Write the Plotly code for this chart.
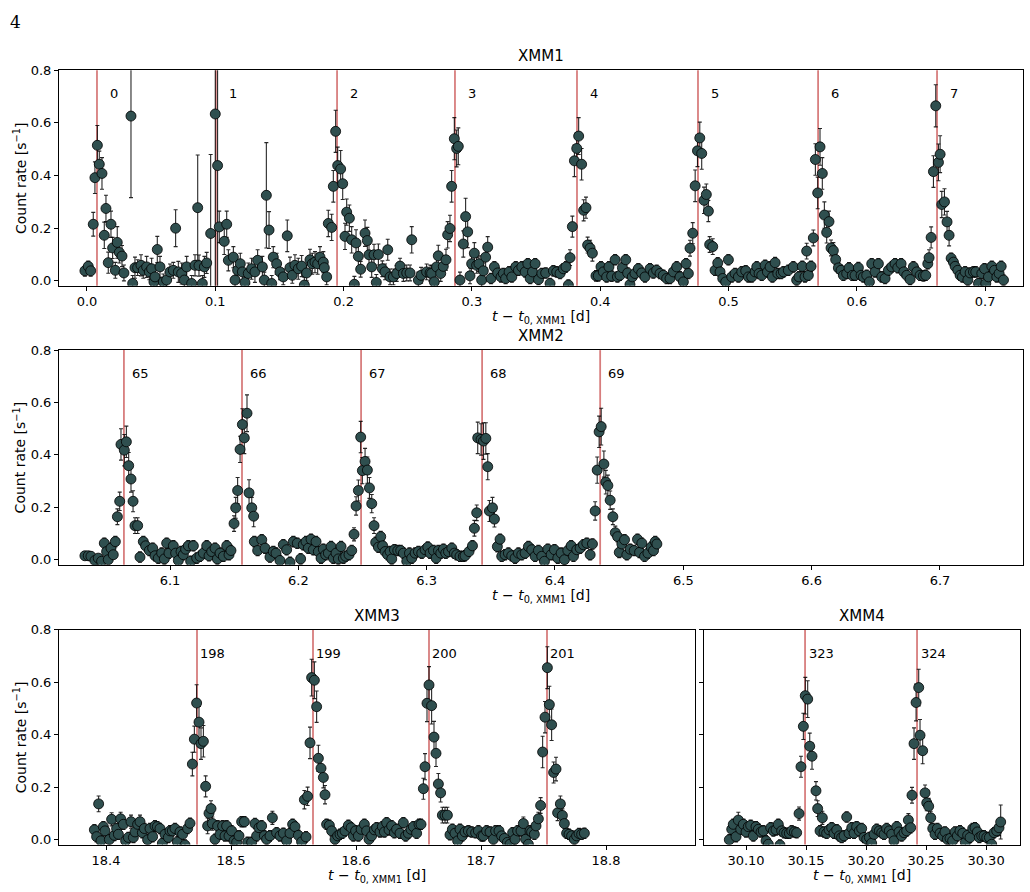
import plotly.graph_objects as go

# ---------------- data ----------------
# XMM1
t1 = [-0.0016, 0.0010, 0.0029, 0.0049, 0.0062, 0.0081, 0.0096, 0.0117, 0.0135, 0.0148, 0.0166, 0.0187, 0.0200, 0.0221,
      0.0236, 0.0252, 0.0273, 0.0288, 0.0343, 0.0356, 0.0374, 0.0395, 0.0421, 0.0439, 0.0465, 0.0486, 0.0504, 0.0522,
      0.0530, 0.0548, 0.0569, 0.0595, 0.0621, 0.0647, 0.0673, 0.0691, 0.0712, 0.0738, 0.0759, 0.0777, 0.0816, 0.0842,
      0.0863, 0.0873, 0.0899, 0.0915, 0.0933, 0.0964, 0.1000, 0.1018, 0.1031, 0.1070, 0.1089, 0.1102, 0.1141, 0.1154,
      0.1174, 0.1195, 0.1211, 0.1231, 0.1257, 0.1283, 0.1309, 0.1330, 0.1367, 0.1382, 0.1398, 0.1419, 0.1440, 0.1452,
      0.1478, 0.1504, 0.1530, 0.1561, 0.1582, 0.1600, 0.1621, 0.1647, 0.1673,
      0.1694, 0.1712, 0.1738, 0.1756, 0.1777, 0.1798, 0.1816, 0.1842, 0.1850, 0.1868, 0.1881, 0.1907, 0.1920, 0.1938,
      0.1954, 0.1977, 0.1993, 0.2011, 0.2024, 0.2045, 0.2063, 0.2084, 0.2097, 0.2115, 0.2133, 0.2167, 0.2185, 0.2198,
      0.2219, 0.2237, 0.2255, 0.2271, 0.2302, 0.2323, 0.2344, 0.2362, 0.2388, 0.2414, 0.2440, 0.2466, 0.2492, 0.2518,
      0.2531, 0.2583, 0.2604, 0.2647, 0.2674, 0.2686, 0.2707, 0.2725, 0.2738, 0.2757, 0.2777, 0.2798, 0.2811, 0.2829,
      0.2842, 0.2863, 0.2881, 0.2894, 0.2907, 0.2933, 0.2951, 0.2967, 0.2985, 0.2998, 0.3019, 0.3037, 0.3055, 0.3076,
      0.3089, 0.3107, 0.3123, 0.3149, 0.3175, 0.3201, 0.3227, 0.3245, 0.3263, 0.3290, 0.3311, 0.3342, 0.3363, 0.3389,
      0.3415, 0.3436, 0.3454, 0.3472, 0.3493, 0.3519, 0.3545,
      0.3575, 0.3609, 0.3635, 0.3661, 0.3687, 0.3713, 0.3733, 0.3752, 0.3765, 0.3783, 0.3799, 0.3817, 0.3832, 0.3855,
      0.3871, 0.3889, 0.3902, 0.3921, 0.3939, 0.3967, 0.3985, 0.4006, 0.4024, 0.4050, 0.4068, 0.4089, 0.4116, 0.4134,
      0.4154, 0.4173, 0.4199, 0.4214, 0.4232, 0.4250, 0.4271, 0.4297, 0.4323, 0.4349, 0.4388, 0.4414, 0.4440, 0.4466,
      0.4492, 0.4518, 0.4544, 0.4570, 0.4596, 0.4622, 0.4648, 0.4669, 0.4687, 0.4700, 0.4721, 0.4740, 0.4758, 0.4776,
      0.4791, 0.4809, 0.4827, 0.4843, 0.4853, 0.4877, 0.4895, 0.4916, 0.4934, 0.4955, 0.4978, 0.4999, 0.5025, 0.5051,
      0.5077, 0.5103, 0.5134, 0.5155, 0.5181, 0.5207, 0.5220, 0.5238, 0.5259, 0.5285, 0.5303, 0.5324, 0.5342, 0.5363,
      0.5384, 0.5410, 0.5428,
      0.5466, 0.5505, 0.5531, 0.5549, 0.5575, 0.5596, 0.5609, 0.5622, 0.5643, 0.5661, 0.5677, 0.5695, 0.5713, 0.5731,
      0.5747, 0.5765, 0.5783, 0.5799, 0.5817, 0.5835, 0.5856, 0.5877, 0.5895, 0.5921, 0.5939, 0.5965, 0.5986, 0.6012,
      0.6033, 0.6051, 0.6077, 0.6098, 0.6116, 0.6142, 0.6168, 0.6194, 0.6220, 0.6246, 0.6272, 0.6298, 0.6319, 0.6345,
      0.6366, 0.6389, 0.6415, 0.6441, 0.6467, 0.6493, 0.6519, 0.6537, 0.6553, 0.6563, 0.6579, 0.6597, 0.6615, 0.6636,
      0.6649, 0.6662, 0.6683, 0.6703, 0.6719, 0.6735, 0.6753, 0.6766, 0.6787, 0.6805, 0.6823, 0.6844, 0.6865, 0.6883,
      0.6909, 0.6927, 0.6948, 0.6974, 0.6995, 0.7005, 0.7026, 0.7052, 0.7073, 0.7091, 0.7109, 0.7125, 0.7143]
y1 = [0.038, 0.055, 0.038, 0.215, 0.392, 0.515, 0.443, 0.408, 0.173, 0.275, 0.069, 0.215, 0.125, 0.040,
      0.146, 0.108, 0.094, 0.030, 0.626, -0.010, 0.050, 0.050, 0.059, 0.040, 0.053, 0.034, 0.046, -0.004,
      0.015, 0.119, 0.053, -0.004, 0.003, 0.034, 0.040, 0.200, 0.034, 0.028, 0.003, 0.053, -0.010, 0.059,
      0.278, 0.058, -0.010, 0.053, 0.068, 0.180, 0.634, 0.438, 0.205, 0.150, 0.215, 0.078, 0.090, 0.003,
      0.040, 0.065, 0.034, -0.006, 0.028, 0.046, 0.034, 0.078, 0.053, 0.003, 0.325, 0.193, -0.010, 0.090,
      0.065, 0.034, 0.015, 0.171, 0.050, 0.021, 0.059, 0.046, 0.056,
      -0.016, 0.030, 0.080, 0.065, 0.071, 0.065, 0.090, 0.071, 0.050, 0.015, 0.218, 0.203, 0.359, 0.568,
      0.438, 0.425, 0.369, 0.169, 0.261, 0.238, 0.156, -0.013, 0.144, 0.093, 0.044, 0.181, 0.153, 0.099,
      0.053, 0.099, -0.006, 0.100, 0.046, 0.034, 0.118, 0.015, 0.015, 0.028, 0.056, 0.028, 0.030, 0.030,
      0.156, 0.003, 0.021, 0.034, 0.030, 0.028, -0.004, 0.053, 0.095, 0.028, 0.055, 0.080, 0.175, 0.199,
      0.359, 0.540, 0.503, 0.511, 0.003, 0.140, 0.244, 0.186, 0.019, 0.065, 0.105, 0.059, 0.065, 0.003,
      0.038, 0.090, 0.128, 0.009, 0.053, 0.030, 0.015, 0.028, 0.009, 0.034, 0.015, 0.053, 0.040, 0.053,
      0.034, 0.065, 0.009, 0.034, 0.065, 0.005, 0.028,
      0.030, -0.010, 0.038, 0.034, 0.028, 0.046, 0.053, -0.016, 0.088, 0.206, 0.456, 0.503, 0.550, 0.443,
      0.268, 0.278, 0.136, 0.124, 0.105, 0.019, 0.019, 0.053, 0.034, 0.015, 0.053, 0.018, 0.080, 0.015,
      0.021, 0.050, 0.080, 0.030, -0.014, 0.015, 0.028, 0.046, 0.030, 0.015, 0.046, 0.030, 0.040, 0.028,
      0.021, 0.009, 0.009, 0.034, 0.053, 0.015, -0.004, 0.065, 0.028, 0.124, 0.181, 0.361, 0.494, 0.543,
      0.484, 0.306, 0.328, 0.265, 0.138, 0.130, 0.040, 0.068, 0.034, 0.009, -0.004, 0.080, 0.015, 0.028,
      0.015, 0.034, 0.038, 0.015, 0.015, 0.034, 0.053, 0.028, 0.021, 0.059, 0.034, 0.053, 0.015, 0.069,
      0.028, 0.028, 0.034,
      0.040, 0.053, 0.003, 0.015, 0.055, 0.015, 0.113, 0.021, 0.055, 0.163, 0.461, 0.334, 0.509, 0.408,
      0.250, 0.184, 0.225, 0.125, 0.115, 0.081, 0.049, 0.040, 0.021, 0.028, 0.049, 0.021, 0.021, 0.050,
      0.021, 0.015, 0.021, -0.004, 0.065, 0.034, 0.065, 0.015, 0.009, 0.040, 0.053, 0.065, 0.050, 0.065,
      0.034, 0.021, 0.005, 0.053, 0.034, 0.021, 0.019, 0.021, 0.065, 0.088, 0.165, 0.415, 0.665, 0.450,
      0.481, 0.290, 0.300, 0.224, 0.173, 0.086, 0.071, 0.055, 0.040, 0.021, 0.015, 0.034, 0.003, 0.030,
      0.034, 0.034, -0.010, 0.028, 0.046, -0.010, 0.015, 0.055, 0.040, 0.015, 0.028, 0.055, 0.003]
e1 = [0.02, 0.02, 0.02, 0.045, 0.06, 0.075, 0.05, 0.06, 0.05, 0.05, 0.04, 0.05, 0.04, 0.03,
      0.06, 0.04, 0.04, 0.03, 0.31, 0.03, 0.04, 0.03, 0.04, 0.03, 0.04, 0.03, 0.04, 0.04,
      0.03, 0.05, 0.04, 0.03, 0.03, 0.03, 0.03, 0.07, 0.04, 0.04, 0.03, 0.04, 0.03, 0.04,
      0.2, 0.04, 0.03, 0.04, 0.04, 0.3, 0.8, 0.5, 0.06, 0.05, 0.05, 0.04, 0.04, 0.03,
      0.03, 0.04, 0.03, 0.03, 0.04, 0.04, 0.04, 0.04, 0.04, 0.03, 0.2, 0.07, 0.03, 0.04,
      0.04, 0.03, 0.03, 0.06, 0.04, 0.03, 0.04, 0.04, 0.04,
      0.03, 0.03, 0.04, 0.04, 0.04, 0.04, 0.04, 0.04, 0.03, 0.03, 0.05, 0.05, 0.06, 0.08,
      0.07, 0.07, 0.06, 0.05, 0.05, 0.05, 0.05, 0.03, 0.05, 0.04, 0.03, 0.05, 0.05, 0.04,
      0.04, 0.04, 0.03, 0.04, 0.03, 0.03, 0.04, 0.03, 0.03, 0.03, 0.03, 0.03, 0.03, 0.03,
      0.05, 0.03, 0.03, 0.03, 0.03, 0.03, 0.03, 0.03, 0.04, 0.03, 0.03, 0.04, 0.05, 0.05,
      0.06, 0.08, 0.07, 0.07, 0.03, 0.05, 0.07, 0.06, 0.03, 0.03, 0.04, 0.03, 0.03, 0.03,
      0.03, 0.04, 0.04, 0.02, 0.02, 0.02, 0.02, 0.02, 0.02, 0.02, 0.02, 0.02, 0.02, 0.02,
      0.02, 0.02, 0.02, 0.02, 0.02, 0.02, 0.02,
      0.02, 0.02, 0.02, 0.02, 0.02, 0.02, 0.02, 0.02, 0.03, 0.04, 0.06, 0.06, 0.07, 0.06,
      0.04, 0.04, 0.03, 0.03, 0.03, 0.02, 0.02, 0.02, 0.02, 0.02, 0.02, 0.02, 0.02, 0.02,
      0.02, 0.02, 0.02, 0.02, 0.02, 0.02, 0.02, 0.02, 0.02, 0.02, 0.02, 0.02, 0.02, 0.02,
      0.02, 0.02, 0.02, 0.02, 0.02, 0.02, 0.02, 0.02, 0.02, 0.03, 0.04, 0.06, 0.06, 0.06,
      0.06, 0.05, 0.04, 0.04, 0.03, 0.03, 0.02, 0.02, 0.02, 0.02, 0.02, 0.02, 0.02, 0.02,
      0.02, 0.02, 0.02, 0.02, 0.02, 0.02, 0.02, 0.02, 0.02, 0.02, 0.02, 0.02, 0.02, 0.02,
      0.02, 0.02, 0.02,
      0.02, 0.02, 0.02, 0.02, 0.02, 0.02, 0.03, 0.02, 0.02, 0.03, 0.06, 0.06, 0.07, 0.06,
      0.05, 0.04, 0.04, 0.03, 0.03, 0.02, 0.02, 0.02, 0.02, 0.02, 0.02, 0.02, 0.02, 0.02,
      0.02, 0.02, 0.02, 0.02, 0.02, 0.02, 0.02, 0.02, 0.02, 0.02, 0.02, 0.02, 0.02, 0.02,
      0.02, 0.02, 0.02, 0.02, 0.02, 0.02, 0.02, 0.02, 0.02, 0.03, 0.04, 0.06, 0.08, 0.07,
      0.07, 0.05, 0.05, 0.04, 0.04, 0.02, 0.02, 0.02, 0.02, 0.02, 0.02, 0.02, 0.02, 0.02,
      0.02, 0.02, 0.02, 0.02, 0.02, 0.02, 0.02, 0.02, 0.02, 0.02, 0.02, 0.02, 0.02]
flares1 = [0.0078, 0.1005, 0.1949, 0.2868, 0.3819, 0.4762, 0.5698, 0.6625]
labels1 = ["0", "1", "2", "3", "4", "5", "6", "7"]

# XMM2
t2 = [6.0337, 6.0363, 6.0384, 6.0415, 6.0441, 6.0467, 6.0488, 6.0506, 6.0519, 6.0540, 6.0558, 6.0574, 6.0590, 6.0608,
      6.0618, 6.0644, 6.0660, 6.0678, 6.0696, 6.0712, 6.0727, 6.0748, 6.0766, 6.0792, 6.0810, 6.0839, 6.0865, 6.0883,
      6.0909, 6.0935, 6.0956, 6.0974, 6.0992, 6.1026, 6.1044, 6.1065, 6.1086, 6.1104, 6.1122, 6.1143, 6.1161, 6.1182,
      6.1208, 6.1234, 6.1260, 6.1286, 6.1304, 6.1325, 6.1351, 6.1369, 6.1390, 6.1416, 6.1442, 6.1460, 6.1475, 6.1499,
      6.1512, 6.1527, 6.1546, 6.1564, 6.1579, 6.1600, 6.1616, 6.1637, 6.1652, 6.1657, 6.1683, 6.1715, 6.1741, 6.1779,
      6.1805, 6.1826, 6.1857, 6.1883, 6.1909, 6.1935, 6.1961, 6.1992, 6.2018, 6.2039, 6.2060, 6.2078, 6.2099, 6.2117,
      6.2138, 6.2156, 6.2177, 6.2195, 6.2213, 6.2234, 6.2255, 6.2273, 6.2294, 6.2312, 6.2333, 6.2351, 6.2369, 6.2395,
      6.2416, 6.2434, 6.2450, 6.2468, 6.2486, 6.2499, 6.2520, 6.2538, 6.2554, 6.2572, 6.2590, 6.2603, 6.2624, 6.2642,
      6.2657, 6.2676, 6.2696, 6.2715, 6.2728, 6.2749, 6.2775, 6.2798, 6.2819, 6.2845, 6.2866, 6.2884, 6.2910, 6.2936,
      6.2962, 6.2988, 6.3009, 6.3027, 6.3053, 6.3074, 6.3092, 6.3110, 6.3131, 6.3149, 6.3170, 6.3196, 6.3216, 6.3234,
      6.3260, 6.3286, 6.3299, 6.3330, 6.3357, 6.3372, 6.3390, 6.3398, 6.3424, 6.3443, 6.3461, 6.3476, 6.3489, 6.3513,
      6.3528, 6.3551, 6.3572, 6.3585, 6.3611, 6.3637, 6.3663, 6.3689, 6.3715, 6.3741, 6.3767, 6.3793, 6.3819, 6.3845,
      6.3871, 6.3897, 6.3918, 6.3944, 6.3970, 6.3996, 6.4022, 6.4048, 6.4074, 6.4100, 6.4126, 6.4144, 6.4170, 6.4196,
      6.4222, 6.4248, 6.4274, 6.4292, 6.4313, 6.4329, 6.4344, 6.4360, 6.4381, 6.4396, 6.4412, 6.4430, 6.4451, 6.4470,
      6.4488, 6.4501, 6.4521, 6.4542, 6.4560, 6.4586, 6.4617, 6.4643, 6.4659, 6.4677, 6.4698, 6.4724, 6.4750, 6.4768,
      6.4781, 6.4794]
y2 = [0.015, 0.015, 0.013, -0.003, 0.006, -0.006, 0.063, 0.031, 0.000, 0.044, 0.019, 0.069, 0.164, 0.223,
      0.440, 0.418, 0.450, 0.359, 0.308, 0.223, 0.130, 0.130, 0.010, 0.069, 0.053, 0.035, 0.044, 0.015,
      0.006, 0.025, 0.003, 0.063, 0.025, 0.053, 0.025, -0.003, 0.031, 0.019, 0.040, 0.053, -0.006, 0.053,
      0.006, 0.013, 0.025, 0.053, 0.015, 0.031, 0.044, 0.003, 0.025, 0.013, 0.053, 0.019, 0.035, 0.138,
      0.198, 0.264, 0.421, 0.516, 0.465, 0.559, 0.255, 0.198, 0.166, 0.069, 0.035, 0.076, 0.044, 0.010,
      0.031, 0.025, -0.003, 0.057, 0.038, -0.010, 0.069, 0.063, 0.003, 0.057, 0.069, 0.044, 0.078, 0.038,
      0.069, 0.031, 0.006, 0.040, 0.019, 0.025, 0.050, 0.006, 0.025, 0.003, 0.050, 0.006, 0.013, 0.019,
      0.035, 0.097, 0.205, 0.264, 0.468, 0.340, 0.375, 0.342, 0.274, 0.214, 0.130, 0.066, 0.048, 0.088,
      0.053, 0.031, 0.019, 0.031, 0.003, 0.038, 0.035, 0.035, 0.025, -0.006, 0.025, 0.006, 0.025, 0.031,
      0.025, 0.038, 0.048, 0.025, 0.035, 0.006, 0.035, 0.025, 0.040, 0.025, 0.031, 0.044, 0.025, 0.019,
      0.013, 0.013, 0.015, 0.031, 0.053, 0.120, 0.179, 0.465, 0.459, 0.453, 0.463, 0.355, 0.186, 0.198,
      0.155, 0.050, 0.078, 0.013, 0.019, 0.025, 0.015, 0.006, 0.025, 0.019, 0.025, 0.050, 0.038, 0.013,
      0.035, 0.013, -0.006, 0.040, 0.019, 0.038, 0.006, 0.025, 0.000, 0.035, 0.053, 0.013, 0.038, 0.044,
      0.057, 0.063, 0.019, 0.060, 0.186, 0.342, 0.488, 0.508, 0.365, 0.296, 0.283, 0.227, 0.164, 0.103,
      0.088, 0.028, 0.060, 0.076, 0.019, 0.040, 0.035, 0.078, 0.028, 0.063, 0.013, 0.025, 0.048, 0.035,
      0.069, 0.060]
e2 = [0.015, 0.015, 0.015, 0.015, 0.015, 0.015, 0.02, 0.02, 0.015, 0.02, 0.015, 0.02, 0.03, 0.035,
      0.06, 0.06, 0.06, 0.05, 0.05, 0.04, 0.03, 0.03, 0.02, 0.02, 0.02, 0.02, 0.02, 0.02,
      0.02, 0.02, 0.02, 0.02, 0.02, 0.02, 0.02, 0.02, 0.02, 0.02, 0.02, 0.02, 0.02, 0.02,
      0.02, 0.02, 0.02, 0.02, 0.02, 0.02, 0.02, 0.02, 0.02, 0.02, 0.02, 0.02, 0.02, 0.03,
      0.04, 0.05, 0.05, 0.06, 0.06, 0.07, 0.05, 0.04, 0.04, 0.02, 0.02, 0.02, 0.02, 0.02,
      0.02, 0.02, 0.02, 0.02, 0.02, 0.02, 0.02, 0.02, 0.02, 0.02, 0.02, 0.02, 0.02, 0.02,
      0.02, 0.02, 0.02, 0.02, 0.02, 0.02, 0.02, 0.02, 0.02, 0.02, 0.02, 0.02, 0.02, 0.02,
      0.02, 0.025, 0.035, 0.04, 0.06, 0.05, 0.05, 0.05, 0.04, 0.035, 0.03, 0.02, 0.02, 0.02,
      0.02, 0.02, 0.02, 0.02, 0.02, 0.02, 0.02, 0.02, 0.02, 0.02, 0.02, 0.02, 0.02, 0.02,
      0.02, 0.02, 0.02, 0.02, 0.02, 0.02, 0.02, 0.02, 0.02, 0.02, 0.02, 0.02, 0.02, 0.02,
      0.02, 0.02, 0.02, 0.02, 0.02, 0.03, 0.03, 0.06, 0.06, 0.07, 0.06, 0.05, 0.04, 0.04,
      0.03, 0.02, 0.02, 0.02, 0.02, 0.02, 0.02, 0.02, 0.02, 0.02, 0.02, 0.02, 0.02, 0.02,
      0.02, 0.02, 0.02, 0.02, 0.02, 0.02, 0.02, 0.02, 0.02, 0.02, 0.02, 0.02, 0.02, 0.02,
      0.02, 0.02, 0.02, 0.02, 0.035, 0.05, 0.06, 0.07, 0.05, 0.045, 0.04, 0.035, 0.03, 0.025,
      0.02, 0.02, 0.02, 0.02, 0.02, 0.02, 0.02, 0.02, 0.02, 0.02, 0.02, 0.02, 0.02, 0.02,
      0.02, 0.02]
flares2 = [6.0641, 6.1561, 6.2489, 6.3432, 6.4352]
labels2 = ["65", "66", "67", "68", "69"]

# XMM3
t3 = [18.3907, 18.3925, 18.3941, 18.3960, 18.3979, 18.3992, 18.4027, 18.4045, 18.4067, 18.4085, 18.4099, 18.4117,
      18.4139, 18.4157, 18.4179, 18.4200, 18.4219, 18.4232, 18.4253, 18.4272, 18.4291, 18.4307, 18.4333, 18.4352,
      18.4373, 18.4392, 18.4411, 18.4432, 18.4451, 18.4472, 18.4499, 18.4512, 18.4531, 18.4552, 18.4571, 18.4592,
      18.4613, 18.4632, 18.4653, 18.4672, 18.4691, 18.4707, 18.4725, 18.4744, 18.4760, 18.4779, 18.4797, 18.4813,
      18.4824, 18.4840, 18.4851, 18.4872, 18.4893, 18.4912, 18.4933, 18.4952, 18.4965, 18.4984, 18.5005, 18.5024,
      18.5045, 18.5064, 18.5085, 18.5107, 18.5133, 18.5165, 18.5192, 18.5205, 18.5224, 18.5245, 18.5267, 18.5285,
      18.5312, 18.5331, 18.5365, 18.5392, 18.5419, 18.5445, 18.5472, 18.5493, 18.5512, 18.5539, 18.5565, 18.5587,
      18.5600, 18.5613, 18.5632, 18.5645, 18.5667, 18.5685, 18.5699, 18.5720, 18.5739, 18.5752, 18.5765, 18.5787,
      18.5805, 18.5832, 18.5853, 18.5872, 18.5891, 18.5912, 18.5939, 18.5961, 18.5979, 18.5997, 18.6019, 18.6041,
      18.6067, 18.6085, 18.6104, 18.6125, 18.6147, 18.6165, 18.6192, 18.6211, 18.6227, 18.6245, 18.6264, 18.6285,
      18.6307, 18.6325, 18.6352, 18.6379, 18.6397, 18.6419, 18.6440, 18.6459, 18.6485, 18.6504, 18.6520, 18.6539,
      18.6552, 18.6568, 18.6584, 18.6605, 18.6624, 18.6640, 18.6659, 18.6677, 18.6691, 18.6712, 18.6731, 18.6752,
      18.6771, 18.6792, 18.6813, 18.6832, 18.6851, 18.6872, 18.6899, 18.6925, 18.6957, 18.6979, 18.7005, 18.7019,
      18.7045, 18.7072, 18.7099, 18.7117, 18.7144, 18.7165, 18.7187, 18.7211, 18.7232, 18.7253, 18.7272, 18.7293,
      18.7320, 18.7339, 18.7357, 18.7379, 18.7392, 18.7405, 18.7427, 18.7440, 18.7459, 18.7477, 18.7493, 18.7512,
      18.7531, 18.7547, 18.7565, 18.7581, 18.7600, 18.7613, 18.7635, 18.7651, 18.7667, 18.7685, 18.7704, 18.7725,
      18.7747, 18.7765, 18.7784, 18.7805, 18.7827]
y3 = [0.037, 0.011, 0.136, -0.005, 0.049, 0.033, 0.000, 0.077, 0.016, 0.042, 0.020, 0.079,
      0.058, -0.005, 0.008, 0.068, 0.008, 0.029, 0.058, 0.068, 0.026, 0.042, -0.001, 0.042,
      0.011, 0.052, 0.049, 0.042, -0.014, 0.020, 0.008, 0.033, 0.033, 0.042, -0.009, 0.029,
      0.020, -0.021, 0.042, 0.062, 0.288, 0.383, 0.521, 0.448, 0.366, 0.375, 0.203, 0.052,
      0.100, 0.118, 0.061, 0.001, 0.052, 0.020, 0.052, 0.014, 0.052, 0.014, 0.033, -0.005,
      -0.011, 0.014, 0.068, 0.068, -0.011, -0.011, 0.061, 0.014, 0.045, 0.052, 0.014, 0.001,
      0.014, 0.083, 0.026, 0.014, 0.024, -0.005, 0.024, 0.058, 0.049, 0.016, -0.009, 0.152,
      0.010, 0.165, 0.369, 0.618, 0.608, 0.507, 0.310, 0.272, 0.237, 0.171, 0.058, 0.054,
      0.033, 0.001, 0.014, 0.020, 0.024, 0.033, 0.054, 0.045, 0.014, 0.033, 0.014, 0.039,
      0.058, 0.033, 0.001, 0.014, 0.037, 0.045, 0.029, 0.049, 0.029, 0.064, 0.037, 0.052,
      0.026, 0.039, 0.024, 0.064, 0.014, 0.024, 0.039, 0.049, 0.024, 0.058, 0.058, 0.194,
      0.278, 0.520, 0.590, 0.511, 0.391, 0.329, 0.212, 0.178, 0.093, 0.093, 0.093, 0.018,
      0.039, 0.024, -0.005, 0.039, 0.014, 0.029, 0.033, 0.029, 0.026, 0.033, 0.014, 0.014,
      0.033, 0.029, 0.001, 0.033, 0.033, 0.014, 0.004, -0.011, -0.018, 0.026, 0.001, 0.033,
      0.033, 0.061, 0.001, -0.018, 0.033, 0.029, 0.020, 0.052, 0.079, 0.130, 0.334, 0.467,
      0.656, 0.515, 0.438, 0.256, 0.269, 0.102, 0.136, 0.092, 0.061, 0.024, 0.020, 0.014,
      0.001, 0.014, 0.023, 0.020, 0.024]
e3 = [0.02, 0.02, 0.03, 0.02, 0.02, 0.02, 0.02, 0.025, 0.02, 0.02, 0.02, 0.025,
      0.02, 0.02, 0.02, 0.025, 0.02, 0.02, 0.02, 0.025, 0.02, 0.02, 0.02, 0.02,
      0.02, 0.02, 0.02, 0.02, 0.02, 0.02, 0.02, 0.02, 0.02, 0.02, 0.02, 0.02,
      0.02, 0.02, 0.02, 0.02, 0.045, 0.05, 0.07, 0.06, 0.06, 0.06, 0.04, 0.03,
      0.03, 0.03, 0.025, 0.02, 0.02, 0.02, 0.02, 0.02, 0.02, 0.02, 0.02, 0.02,
      0.02, 0.02, 0.02, 0.02, 0.02, 0.02, 0.02, 0.02, 0.02, 0.02, 0.02, 0.02,
      0.02, 0.025, 0.02, 0.02, 0.02, 0.02, 0.02, 0.02, 0.02, 0.02, 0.02, 0.035,
      0.02, 0.035, 0.06, 0.07, 0.07, 0.06, 0.05, 0.04, 0.04, 0.035, 0.02, 0.02,
      0.02, 0.02, 0.02, 0.02, 0.02, 0.02, 0.02, 0.02, 0.02, 0.02, 0.02, 0.02,
      0.02, 0.02, 0.02, 0.02, 0.02, 0.02, 0.02, 0.02, 0.02, 0.02, 0.02, 0.02,
      0.02, 0.02, 0.02, 0.02, 0.02, 0.02, 0.02, 0.02, 0.02, 0.02, 0.02, 0.04,
      0.05, 0.07, 0.07, 0.07, 0.06, 0.05, 0.04, 0.035, 0.03, 0.03, 0.03, 0.02,
      0.02, 0.02, 0.02, 0.02, 0.02, 0.02, 0.02, 0.02, 0.02, 0.02, 0.02, 0.02,
      0.02, 0.02, 0.02, 0.02, 0.02, 0.02, 0.02, 0.02, 0.02, 0.02, 0.02, 0.02,
      0.02, 0.025, 0.02, 0.02, 0.02, 0.02, 0.02, 0.02, 0.025, 0.03, 0.06, 0.06,
      0.08, 0.07, 0.06, 0.04, 0.045, 0.03, 0.03, 0.025, 0.02, 0.02, 0.02, 0.02,
      0.02, 0.02, 0.02, 0.02, 0.02]
flares3 = [18.4728, 18.5656, 18.6584, 18.7528]
labels3 = ["198", "199", "200", "201"]

# XMM4
t4 = [30.0861, 30.0881, 30.0894, 30.0917, 30.0936, 30.0956, 30.0978, 30.1000, 30.1019, 30.1039, 30.1061, 30.1083,
      30.1103, 30.1125, 30.1144, 30.1167, 30.1186, 30.1206, 30.1228, 30.1250, 30.1269, 30.1283, 30.1297, 30.1317,
      30.1339, 30.1361, 30.1381, 30.1403, 30.1422, 30.1442, 30.1458, 30.1478, 30.1494, 30.1514, 30.1531, 30.1550,
      30.1583, 30.1597, 30.1617, 30.1636, 30.1650, 30.1672, 30.1692, 30.1714, 30.1733, 30.1756, 30.1778, 30.1797,
      30.1817, 30.1839, 30.1858, 30.1881, 30.1900, 30.1922, 30.1944, 30.1964, 30.1983, 30.2006, 30.2028, 30.2047,
      30.2067, 30.2089, 30.2111, 30.2131, 30.2150, 30.2172, 30.2194, 30.2214, 30.2233, 30.2256, 30.2275, 30.2297,
      30.2317, 30.2339, 30.2353, 30.2372, 30.2383, 30.2400, 30.2417, 30.2439, 30.2450, 30.2472, 30.2492, 30.2506,
      30.2522, 30.2539, 30.2556, 30.2575, 30.2594, 30.2617, 30.2639, 30.2658, 30.2678, 30.2700, 30.2722, 30.2742,
      30.2761, 30.2783, 30.2806, 30.2828, 30.2847, 30.2867, 30.2889, 30.2908, 30.2928, 30.2944, 30.2964, 30.2983,
      30.3006, 30.3028, 30.3047, 30.3067, 30.3089, 30.3108, 30.3122]
y4 = [-0.001, 0.039, 0.058, 0.011, 0.074, 0.039, 0.058, 0.029, 0.049, 0.054, 0.014, 0.049,
      0.039, 0.029, 0.033, -0.005, -0.018, 0.045, 0.033, 0.037, 0.058, -0.021, 0.033, 0.026,
      0.024, 0.024, 0.033, 0.029, 0.026, 0.099, 0.278, 0.432, 0.549, 0.536, 0.356, 0.318,
      0.186, 0.118, 0.033, 0.083, 0.029, 0.024, 0.037, 0.045, 0.024, 0.037, 0.014, 0.008,
      0.014, 0.086, 0.024, 0.045, 0.024, 0.049, 0.033, 0.042, 0.008, 0.001, 0.008, -0.014,
      0.020, 0.039, 0.033, 0.026, 0.020, 0.042, 0.033, 0.020, -0.005, 0.049, 0.029, 0.014,
      0.026, 0.033, 0.074, 0.045, 0.169, 0.366, 0.523, 0.580, 0.398, 0.339, 0.178, 0.140,
      0.127, 0.083, 0.042, 0.020, 0.042, 0.024, 0.014, 0.029, 0.001, 0.004, -0.005, 0.029,
      0.014, 0.033, 0.024, -0.011, 0.016, 0.008, 0.042, 0.045, 0.029, 0.008, 0.014, 0.014,
      0.008, 0.008, -0.018, 0.026, 0.033, 0.045, 0.067]
e4 = [0.02, 0.02, 0.02, 0.02, 0.03, 0.02, 0.02, 0.02, 0.02, 0.02, 0.02, 0.02,
      0.02, 0.02, 0.02, 0.02, 0.02, 0.02, 0.02, 0.02, 0.02, 0.02, 0.02, 0.02,
      0.02, 0.02, 0.02, 0.02, 0.02, 0.025, 0.04, 0.05, 0.07, 0.07, 0.05, 0.05,
      0.035, 0.03, 0.02, 0.025, 0.02, 0.02, 0.02, 0.02, 0.02, 0.02, 0.02, 0.02,
      0.02, 0.02, 0.02, 0.02, 0.02, 0.02, 0.02, 0.02, 0.02, 0.02, 0.02, 0.02,
      0.02, 0.02, 0.02, 0.02, 0.02, 0.02, 0.02, 0.02, 0.02, 0.02, 0.02, 0.02,
      0.02, 0.02, 0.025, 0.02, 0.03, 0.06, 0.07, 0.07, 0.06, 0.05, 0.03, 0.03,
      0.03, 0.025, 0.02, 0.02, 0.02, 0.02, 0.02, 0.02, 0.02, 0.02, 0.02, 0.02,
      0.02, 0.02, 0.02, 0.02, 0.02, 0.02, 0.02, 0.02, 0.02, 0.02, 0.02, 0.02,
      0.02, 0.02, 0.02, 0.02, 0.02, 0.03, 0.065]
flares4 = [30.1492, 30.2425]
labels4 = ["323", "324"]

# ---------------- layout ----------------
W, H = 1030, 892
FONT = "DejaVu Sans"

def fx(p):
    return p / W

def fy(p):
    return 1 - p / H

# (name, t, y, e, flares, labels, x-range, box px (x0,x1,ytop,ybot), tickvals, tickformat, label shift px, show y labels)
panels = [
    ("XMM1", t1, y1, e1, flares1, labels1, [-0.0218, 0.7295], (59, 1023, 64, 282),
     [0.0, 0.1, 0.2, 0.3, 0.4, 0.5, 0.6, 0.7], ".1f", 11, True),
    ("XMM2", t2, y2, e2, flares2, labels2, [6.0135, 6.7647], (59, 1023, 347, 564),
     [6.1, 6.2, 6.3, 6.4, 6.5, 6.6, 6.7], ".1f", 6, True),
    ("XMM3", t3, y3, e3, flares3, labels3, [18.3624, 18.8712], (59, 695, 630, 847),
     [18.4, 18.5, 18.6, 18.7, 18.8], ".1f", 1, True),
    ("XMM4", t4, y4, e4, flares4, labels4, [30.065, 30.3283], (704, 1020, 630, 847),
     [30.10, 30.15, 30.20, 30.25, 30.30], ".2f", 2, False),
]

fig = go.Figure()
shapes = []
annotations = []
layout_axes = {}

for i, (name, t, y, e, flares, labs, xr, box, tv, tf, shift, showy) in enumerate(panels, start=1):
    xa = "x" if i == 1 else f"x{i}"
    ya = "y" if i == 1 else f"y{i}"
    x0, x1, ytop, ybot = box
    fig.add_trace(go.Scatter(
        x=t, y=y, xaxis=xa, yaxis=ya, mode="markers",
        marker=dict(size=10, color="#2F4F4F", line=dict(color="black", width=0.8)),
        error_y=dict(type="data", array=e, color="rgba(0,0,0,0.85)", thickness=1.1, width=2),
        showlegend=False, hoverinfo="skip"))
    axkey = "xaxis" if i == 1 else f"xaxis{i}"
    aykey = "yaxis" if i == 1 else f"yaxis{i}"
    layout_axes[axkey] = dict(
        domain=[fx(x0), fx(x1)], range=xr, anchor=ya,
        tickvals=tv, tickformat=tf, ticks="outside", ticklen=4, tickwidth=1, tickcolor="black",
        showline=True, mirror=True, linecolor="black", linewidth=1,
        showgrid=False, zeroline=False,
        tickfont=dict(family=FONT, size=13, color="black"))
    layout_axes[aykey] = dict(
        domain=[fy(ybot), fy(ytop)], range=[-0.019, 0.8], anchor=xa,
        tickvals=[0.0, 0.2, 0.4, 0.6, 0.8], tickformat=".1f", showticklabels=showy,
        ticks="outside", ticklen=4, tickwidth=1, tickcolor="black",
        showline=True, mirror=True, linecolor="black", linewidth=1,
        showgrid=False, zeroline=False,
        tickfont=dict(family=FONT, size=13, color="black"))
    for fl, lb in zip(flares, labs):
        shapes.append(dict(type="line", xref=xa, yref=f"{ya} domain", x0=fl, x1=fl, y0=0, y1=1,
                           line=dict(color="rgba(205,92,92,0.8)", width=1.8), layer="below"))
        annotations.append(dict(x=fl, y=0.71, xref=xa, yref=ya, text=lb, showarrow=False,
                                xanchor="left", yanchor="middle", xshift=shift,
                                font=dict(family=FONT, size=13, color="black")))
    # panel title
    annotations.append(dict(x=fx((x0 + x1) / 2), y=fy(ytop - 3), xref="paper", yref="paper",
                            text=name, showarrow=False, xanchor="center", yanchor="bottom",
                            font=dict(family=FONT, size=15, color="black")))
    # x-axis title
    annotations.append(dict(x=fx((x0 + x1) / 2), y=fy(ybot + 32), xref="paper", yref="paper",
                            text="<i>t</i> − <i>t</i><sub>0, XMM1</sub> [d]", showarrow=False,
                            xanchor="center", yanchor="middle",
                            font=dict(family=FONT, size=14, color="black")))
    if showy:
        annotations.append(dict(x=fx(20), y=fy((ytop + ybot) / 2), xref="paper", yref="paper",
                                text="Count rate [s<sup>−1</sup>]", showarrow=False, textangle=-90,
                                xanchor="center", yanchor="middle",
                                font=dict(family=FONT, size=14, color="black")))

# page number
annotations.append(dict(x=fx(8), y=fy(15), xref="paper", yref="paper", text="4", showarrow=False,
                        xanchor="left", yanchor="middle",
                        font=dict(family="DejaVu Serif", size=17, color="black")))

fig.update_layout(
    width=W, height=H, margin=dict(l=0, r=0, t=0, b=0),
    paper_bgcolor="white", plot_bgcolor="white",
    shapes=shapes, annotations=annotations, showlegend=False,
    **layout_axes)

fig.write_html("out.html")
